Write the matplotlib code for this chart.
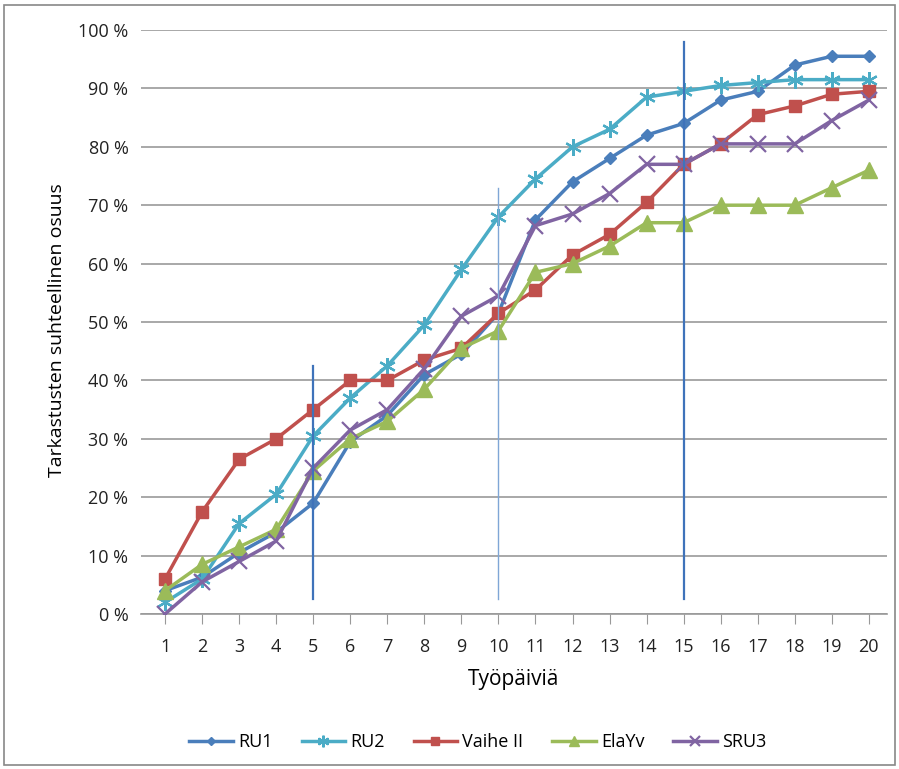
import numpy as np
import matplotlib.pyplot as plt
from matplotlib.patches import Rectangle
from matplotlib.ticker import FuncFormatter

plt.rcParams['font.family'] = ['Open Sans', 'DejaVu Sans']

days = np.arange(1, 21)

# osuudet prosentteina, luettu kuvasta
ru1 = [4, 6.3, 10.5, 14, 19, 29.5, 34, 41, 44.5, 51.5, 67.5, 74, 78, 82, 84, 88, 89.5, 94, 95.5, 95.5]
ru2 = [2, 6, 15.5, 20.5, 30.5, 37, 42.5, 49.5, 59, 68, 74.5, 80, 83, 88.5, 89.5, 90.5, 91, 91.5, 91.5, 91.5]
vaihe2 = [6, 17.5, 26.5, 30, 35, 40, 40, 43.5, 45.5, 51.5, 55.5, 61.5, 65, 70.5, 77, 80.5, 85.5, 87, 89, 89.5]
elayv = [4, 8.5, 11.5, 14.5, 24.5, 30, 33, 38.5, 45.5, 48.5, 58.5, 60, 63, 67, 67, 70, 70, 70, 73, 76]
sru3 = [0, 5.5, 9, 12.5, 25, 31.5, 35, 42, 51, 54.5, 66.5, 68.5, 72, 77, 77, 80.5, 80.5, 80.5, 84.5, 88]

# pystyviivat päivien 5, 10 ja 15 kohdalla
mark_days = [5, 10, 15]
mark_tops = [42.5, 73, 98]
mark_bottom = 2.5

fig = plt.figure(figsize=(8.99, 7.69), dpi=100)
ax = fig.add_axes([141/899, 1 - 614/769, (887 - 141)/899, (614 - 30)/769])

series = [
    ('RU1', ru1, '#4A7EBB', 'D', 6.5),
    ('RU2', ru2, '#4BACC6', (6, 2, 0), 12),
    ('Vaihe II', vaihe2, '#C0504D', 's', 8.5),
    ('ElaYv', elayv, '#9BBB59', '^', 11),
    ('SRU3', sru3, '#8064A2', 'x', 11),
]
for name, vals, col, mk, ms in series:
    ax.plot(days, vals, color=col, lw=2.5, marker=mk, ms=ms,
            mew=1.6 if mk in ('x', (6, 2, 0)) else 1, mec=col, mfc=col,
            label=name, zorder=3)

for d, top in zip(mark_days, mark_tops):
    thin = d == 10
    ax.plot([d, d], [mark_bottom, top], color='#7FA6D6' if thin else '#3F73BA',
            lw=1.0 if thin else 1.6, zorder=4)

ax.set_xlim(0.35, 20.49)
ax.set_ylim(0, 100)
ax.set_yticks(np.arange(0, 101, 10))
ax.yaxis.set_major_formatter(FuncFormatter(lambda v, p: f'{v:.0f} %'))
ax.set_xticks(days)
ax.grid(axis='y', color='#999999', lw=1.2, zorder=0)
for s in ['left', 'right', 'top']:
    ax.spines[s].set_visible(False)
ax.spines['bottom'].set_color('#999999')
ax.spines['bottom'].set_linewidth(1.2)
ax.tick_params(axis='y', length=0, pad=9, labelsize=13, labelcolor='#222222')
ax.tick_params(axis='x', length=7, color='#999999', direction='out', labelsize=13,
               labelcolor='#222222', pad=10)

ax.set_xlabel('Työpäiviä', fontsize=15, labelpad=10)
fig.text(57/899, 1 - 330/769, 'Tarkastusten suhteellinen osuus', rotation=90,
         fontsize=14, ha='center', va='center')

ax.legend(loc='center', bbox_to_anchor=(478/899, 1 - 742/769),
          bbox_transform=fig.transFigure, ncol=5, frameon=False, fontsize=13,
          handlelength=2.4, markerscale=0.7, columnspacing=1.6, handletextpad=0.3)

fig.patches.append(Rectangle((4/899, 4/769), 1 - 8/899, 1 - 9/769,
                             transform=fig.transFigure, fill=False,
                             ec='#888888', lw=1.2))

fig.savefig('out.png', dpi=100)
